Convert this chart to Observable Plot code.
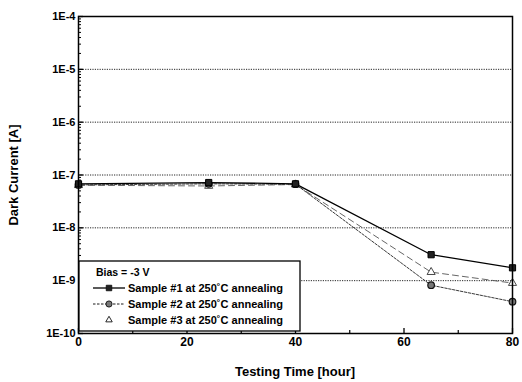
<!DOCTYPE html>
<html>
<head>
<meta charset="utf-8">
<script src="https://cdn.jsdelivr.net/npm/d3@7"></script>
<script src="https://cdn.jsdelivr.net/npm/@observablehq/plot@0.6"></script>
<style>
  html, body { margin: 0; padding: 0; background: #fff; }
  svg { font-family: "Liberation Sans", Arial, sans-serif; }
</style>
</head>
<body>
<div id="chart"></div>
<script>
const hours = [0, 24, 40, 65, 80];
const sample1 = [6.8e-8, 7.2e-8, 6.8e-8, 3.1e-9, 1.75e-9];
const sample2 = [6.5e-8, 6.8e-8, 6.7e-8, 8.2e-10, 4.0e-10];
const sample3 = [6.4e-8, 6.2e-8, 6.6e-8, 1.45e-9, 9.0e-10];
const seriesNames = ["Sample #1 at 250\u02DAC annealing", "Sample #2 at 250\u02DAC annealing", "Sample #3 at 250\u02DAC annealing"];
const biasLabel = "Bias = -3 V";
const xTicks = [0, 20, 40, 60, 80];
const xMinorTicks = [10, 30, 50, 70];
const yTicks = [1e-10, 1e-9, 1e-8, 1e-7, 1e-6, 1e-5, 1e-4];
const xTitle = "Testing Time [hour]";
const yTitle = "Dark Current [A]";

const yMinorTicks = [];
for (let e = -10; e < -4; e++) for (let m = 2; m <= 9; m++) yMinorTicks.push(m * Math.pow(10, e));

const toRows = (vals) => hours.map((h, i) => ({h, v: vals[i]}));
const s1 = toRows(sample1), s2 = toRows(sample2), s3 = toRows(sample3);

const W = 522, H = 382;
const blank = () => "";
const plot = Plot.plot({
  width: W, height: H,
  marginLeft: 78, marginRight: 10, marginTop: 16, marginBottom: 49,
  style: {fontFamily: "Liberation Sans, Arial, sans-serif", background: "white"},
  x: {domain: [0, 80]},
  y: {type: "log", domain: [1e-10, 1e-4]},
  marks: [
    Plot.gridY(yTicks.slice(1, -1), {stroke: "#000", strokeOpacity: 0.85, strokeDasharray: "1.2,1.2", strokeWidth: 1}),
    Plot.axisX({ticks: xTicks, tickSize: -5, tickFormat: d => String(d), fontSize: 12, fontWeight: "bold", tickPadding: 9, label: null, stroke: "#000", strokeWidth: 1.3, color: "#000"}),
    Plot.axisX({ticks: xMinorTicks, tickSize: -3, tickFormat: blank, label: null, stroke: "#000", strokeWidth: 1.2}),
    Plot.axisY({ticks: yTicks, tickSize: -5, tickFormat: d => "1E" + Math.round(Math.log10(d)), fontSize: 11, fontWeight: "bold", tickPadding: 8, label: null, stroke: "#000", strokeWidth: 1.3, color: "#000"}),
    Plot.axisY({ticks: yMinorTicks, tickSize: -3, tickFormat: blank, label: null, stroke: "#000", strokeWidth: 1}),
    Plot.line(s3, {x: "h", y: "v", stroke: "#555", strokeWidth: 0.9, strokeDasharray: "6,4"}),
    Plot.line(s2, {x: "h", y: "v", stroke: "#222", strokeWidth: 0.9, strokeDasharray: "2.5,1.5"}),
    Plot.line(s1, {x: "h", y: "v", stroke: "#000", strokeWidth: 1.3}),
    Plot.dot(s3, {x: "h", y: "v", symbol: "triangle", r: 3, stroke: "#333", fill: "white", strokeWidth: 0.9}),
    Plot.dot(s2, {x: "h", y: "v", symbol: "circle", r: 3.3, stroke: "#111", fill: "#777", strokeWidth: 1.2}),
    Plot.dot(s1, {x: "h", y: "v", symbol: "square", r: 3.5, stroke: "#000", fill: "#222", strokeWidth: 1}),
    Plot.frame({stroke: "#000", strokeWidth: 1.5})
  ]
});
document.getElementById("chart").appendChild(plot);

const svg = d3.select(plot);
// axis titles
svg.append("text").attr("x", (78 + 512) / 2).attr("y", 376)
  .attr("text-anchor", "middle").attr("font-size", 13).attr("font-weight", "bold").text(xTitle);
svg.append("text").attr("transform", "translate(18,175) rotate(-90)")
  .attr("text-anchor", "middle").attr("font-size", 13).attr("font-weight", "bold").text(yTitle);

// legend
const lg = svg.append("g").attr("text-anchor", "start");
lg.append("rect").attr("x", 79).attr("y", 261).attr("width", 221).attr("height", 70)
  .attr("fill", "white").attr("stroke", "#000").attr("stroke-width", 1.3);
lg.append("text").attr("x", 96).attr("y", 276).attr("text-anchor", "start").attr("font-size", 10.5).attr("font-weight", "bold").text(biasLabel);
const rows = [
  {y: 292, dash: null, sym: d3.symbolSquare, fill: "#222", line: true, w: 1.3, size: 30},
  {y: 308, dash: "2.5,1.5", sym: d3.symbolCircle, fill: "#777", line: true, w: 0.9, size: 30},
  {y: 324, dash: null, sym: d3.symbolTriangle, fill: "white", line: false, w: 0.9, size: 18}
];
rows.forEach((r, i) => {
  if (r.line) {
    lg.append("line").attr("x1", 93).attr("x2", 125).attr("y1", r.y - 4).attr("y2", r.y - 4)
      .attr("stroke", "#000").attr("stroke-width", r.w).attr("stroke-dasharray", r.dash);
  }
  lg.append("path").attr("d", d3.symbol(r.sym, r.size)()).attr("transform", `translate(109,${r.y - 4})`)
    .attr("fill", r.fill).attr("stroke", "#111").attr("stroke-width", 0.9);
  lg.append("text").attr("x", 128).attr("y", r.y).attr("text-anchor", "start").attr("font-size", 10.5)
    .attr("font-weight", "bold").attr("textLength", 155).attr("lengthAdjust", "spacingAndGlyphs").text(seriesNames[i]);
});
</script>
</body>
</html>
